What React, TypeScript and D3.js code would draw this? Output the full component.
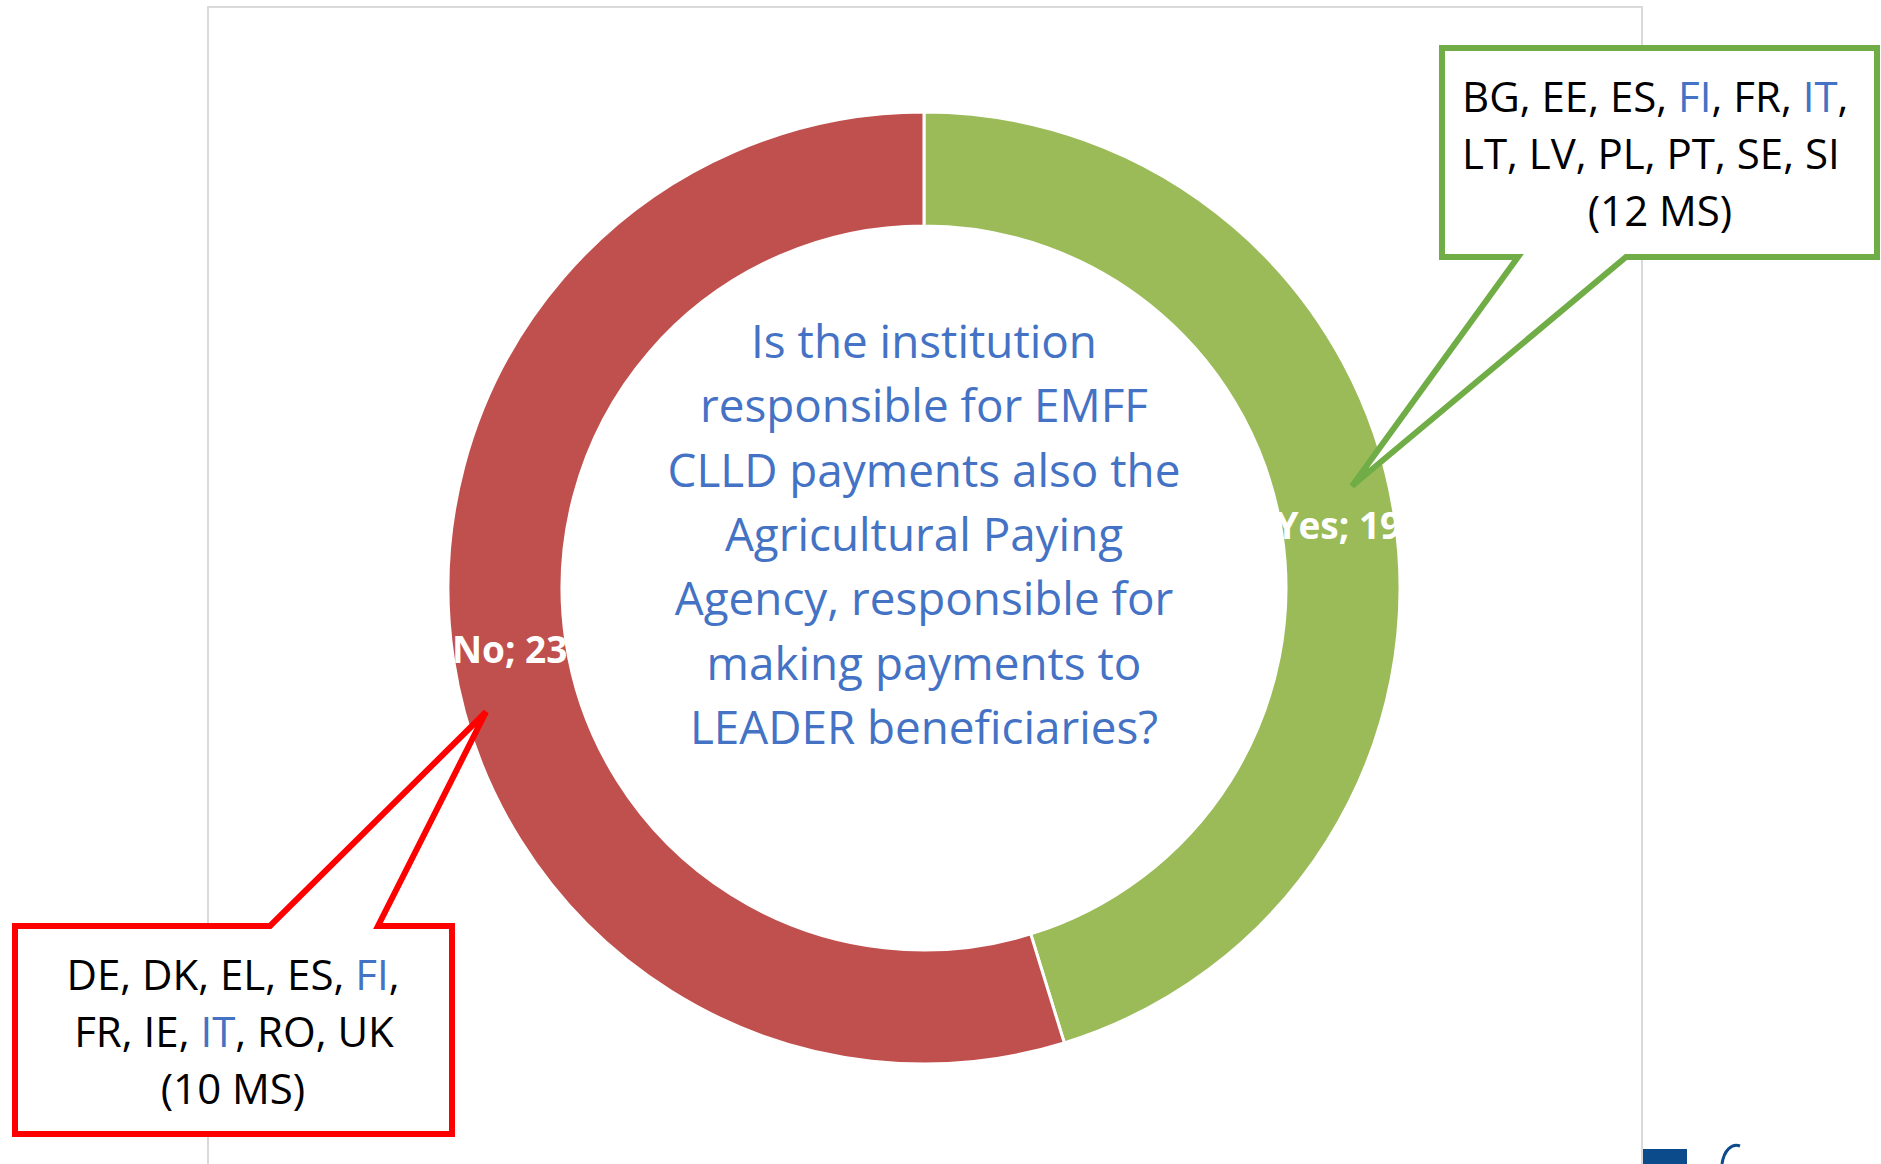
import React, { useRef, useEffect } from 'react'
import * as d3 from 'd3'

// answers to the survey question
const answers = ['Yes', 'No']
const answerCounts = [19, 23]
const answerColors = ['#9BBB59', '#C0504D']

const questionLines = [
    'Is the institution',
    'responsible for EMFF',
    'CLLD payments also the',
    'Agricultural Paying',
    'Agency, responsible for',
    'making payments to',
    'LEADER beneficiaries?',
]

const yesCountries = ['BG', 'EE', 'ES', 'FI', 'FR', 'IT', 'LT', 'LV', 'PL', 'PT', 'SE', 'SI']
const noCountries = ['DE', 'DK', 'EL', 'ES', 'FI', 'FR', 'IE', 'IT', 'RO', 'UK']
const highlighted = ['FI', 'IT']
const yesBreak = 6
const noBreak = 5

const W = 1881
const H = 1164
const FONT = '"Open Sans", "DejaVu Sans", sans-serif'

export default function App() {
    const ref = useRef(null)

    useEffect(() => {
        const svg = d3.select(ref.current)
        svg.selectAll('*').remove()

        const cx = 924
        const cy = 588
        const outer = 476
        const inner = 362

        // chart frame
        svg.append('rect')
            .attr('x', 208)
            .attr('y', 7)
            .attr('width', 1434)
            .attr('height', 1220)
            .attr('fill', 'none')
            .attr('stroke', '#D9D9D9')
            .attr('stroke-width', 2)

        const pie = d3.pie().sort(null).value((d) => d.value)
        const arcs = pie(answers.map((a, i) => ({ name: a, value: answerCounts[i], color: answerColors[i] })))
        const arc = d3.arc().innerRadius(inner).outerRadius(outer)
        const labelArc = d3.arc().innerRadius((inner + outer) / 2).outerRadius((inner + outer) / 2)

        const g = svg.append('g').attr('transform', `translate(${cx},${cy})`)
        g.selectAll('path')
            .data(arcs)
            .join('path')
            .attr('d', arc)
            .attr('fill', (d) => d.data.color)
            .attr('stroke', '#fff')
            .attr('stroke-width', 3)

        g.selectAll('text.lbl')
            .data(arcs)
            .join('text')
            .attr('class', 'lbl')
            .attr('x', (d) => labelArc.centroid(d)[0])
            .attr('y', (d) => labelArc.centroid(d)[1])
            .attr('dy', '0.35em')
            .attr('text-anchor', 'middle')
            .attr('fill', '#fff')
            .attr('font-family', FONT)
            .attr('font-weight', 'bold')
            .attr('font-size', 37)
            .text((d) => `${d.data.name}; ${d.data.value}`)

        // question in the middle
        svg.append('g')
            .selectAll('text')
            .data(questionLines)
            .join('text')
            .attr('x', cx)
            .attr('y', (d, i) => 358 + i * 64.3)
            .attr('text-anchor', 'middle')
            .attr('fill', '#4472C4')
            .attr('font-family', FONT)
            .attr('font-size', 45.8)
            .text((d) => d)

        // callout boxes
        function callout(path, color) {
            svg.append('path')
                .attr('d', path)
                .attr('fill', '#fff')
                .attr('stroke', color)
                .attr('stroke-width', 6)
                .attr('stroke-linejoin', 'miter')
        }

        function countryLines(list, brk, total) {
            return [list.slice(0, brk), list.slice(brk), [`(${total} MS)`]]
        }

        function writeLines(lines, xs, anchors, y0, step) {
            lines.forEach((items, li) => {
                const t = svg.append('text')
                    .attr('x', xs[li])
                    .attr('y', y0 + li * step)
                    .attr('text-anchor', anchors[li])
                    .attr('font-family', FONT)
                    .attr('font-size', 42)
                    .attr('fill', '#000')
                const last = li === lines.length - 1
                items.forEach((c, i) => {
                    t.append('tspan')
                        .attr('fill', highlighted.includes(c) ? '#4472C4' : '#000')
                        .text(c)
                    if (!last && (i < items.length - 1 || li === 0)) t.append('tspan').text(', ')
                })
            })
        }

        callout('M1442,48 H1877 V257 H1626 L1352,486 L1518,257 H1442 Z', '#70AD47')
        writeLines(countryLines(yesCountries, yesBreak, 12), [1462, 1462, 1660], ['start', 'start', 'middle'], 112, 57)

        callout('M15,926 H270 L486,712 L378,926 H452 V1134 H15 Z', '#FF0000')
        writeLines(countryLines(noCountries, noBreak, 10), [233, 234, 233], ['middle', 'middle', 'middle'], 990, 57)

        // bit of logo cut off at the bottom
        svg.append('rect').attr('x', 1643).attr('y', 1149).attr('width', 44).attr('height', 20).attr('fill', '#0B4A8B')
        svg.append('path')
            .attr('d', 'M1722,1164 C1724,1150 1732,1143 1740,1146')
            .attr('fill', 'none')
            .attr('stroke', '#0B4A8B')
            .attr('stroke-width', 3)
    }, [])

    return (
        <svg
            ref={ref}
            width={W}
            height={H}
            style={{ position: 'absolute', left: 0, top: 0, background: '#fff' }}
        ></svg>
    )
}
